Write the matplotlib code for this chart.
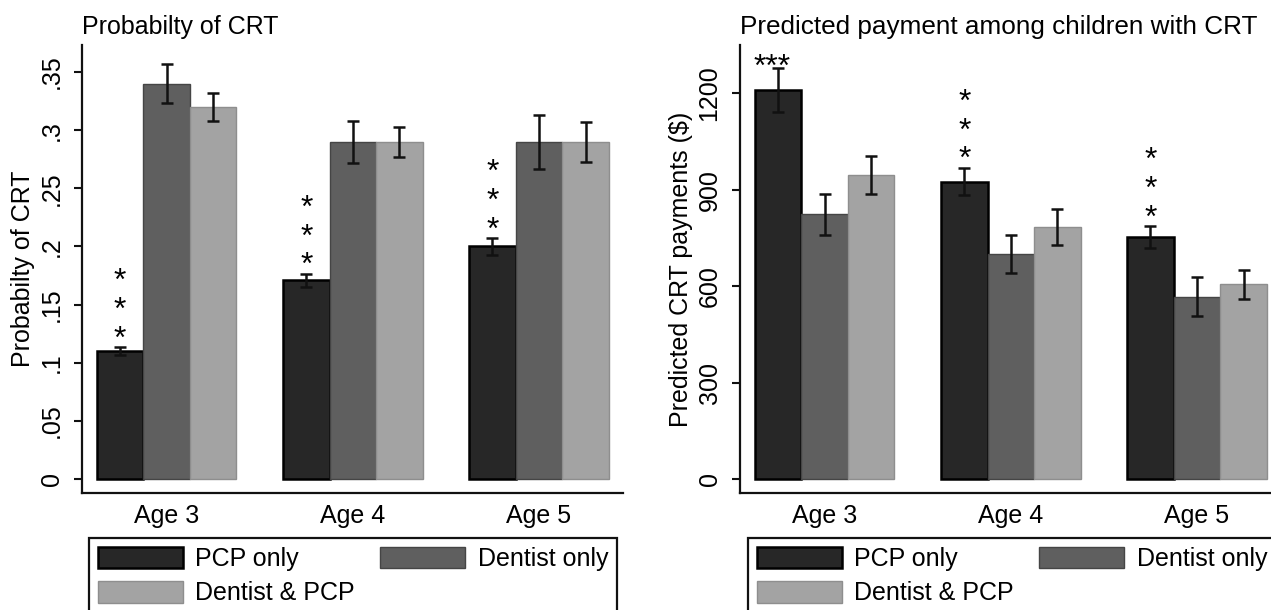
import matplotlib
matplotlib.use("Agg")
import matplotlib.pyplot as plt
from matplotlib.patches import Patch
import numpy as np

plt.rcParams['font.family'] = ['Liberation Sans', 'DejaVu Sans']

# ---------------- data ----------------
ages = ["Age 3", "Age 4", "Age 5"]
series = ["PCP only", "Dentist only", "Dentist & PCP"]

prob_pcp = [0.11, 0.171, 0.20]
prob_pcp_err = [0.0035, 0.0055, 0.0073]
prob_dentist = [0.34, 0.29, 0.29]
prob_dentist_err = [0.017, 0.018, 0.023]
prob_both = [0.32, 0.29, 0.29]
prob_both_err = [0.012, 0.0127, 0.017]

pay_pcp = [1210, 925, 752]
pay_pcp_err = [68, 43, 35]
pay_dentist = [823, 700, 567]
pay_dentist_err = [65, 58, 61]
pay_both = [947, 785, 606]
pay_both_err = [59, 56, 45]

prob_ticks = [0, 0.05, 0.10, 0.15, 0.20, 0.25, 0.30, 0.35]
prob_ticklabels = ["0", ".05", ".1", ".15", ".2", ".25", ".3", ".35"]
pay_ticks = [0, 300, 600, 900, 1200]
pay_ticklabels = ["0", "300", "600", "900", "1200"]

# significance marks on the "PCP only" bars
prob_stars = ["*\n*\n*", "*\n*\n*", "*\n*\n*"]
pay_stars = ["***", "*\n*\n*", "*\n*\n*"]

titles = ["Probabilty of CRT", "Predicted payment among children with CRT"]
ylabels = ["Probabilty of CRT", "Predicted CRT payments ($)"]

# ---------------- style ----------------
W, H = 1271, 610
FS = 18
SFS = 23
colors = ["#272727", "#5f5f5f", "#a3a3a3"]
edges = ["#000000", "#454545", "#8e8e8e"]
edge_lw = [1.8, 1.0, 1.0]
BW = 0.25
PX = 0.72  # points per pixel at dpi 100

fig = plt.figure(figsize=(W / 100, H / 100), dpi=100)
ax1 = fig.add_axes([82 / W, 1 - 493 / H, 541 / W, 448 / H])
ax2 = fig.add_axes([740 / W, 1 - 493 / H, 541 / W, 448 / H])


def draw(ax, vals, errs, stars, yticks, yticklabels, ylim, title, ylabel,
         legend_x, title_fs):
    x = np.arange(len(ages))
    for i, (v, e) in enumerate(zip(vals, errs)):
        xs = x + (i - 1) * BW
        ax.bar(xs, v, width=BW, color=colors[i], edgecolor=edges[i],
               linewidth=edge_lw[i], zorder=2)
        ax.errorbar(xs, v, yerr=e, fmt="none", ecolor="#111111",
                    elinewidth=1.8, capsize=4.5, capthick=1.8, zorder=3)
    # stars above PCP bars
    xs = x - BW
    for j, s in enumerate(stars):
        top = vals[0][j] + errs[0][j]
        if "\n" in s:
            dx, dy = 0, -7.5
        else:
            dx, dy = -6, -14.5
        ax.annotate(s, xy=(xs[j], top), xytext=(dx * PX, dy * PX),
                    textcoords="offset points", ha="center", va="bottom",
                    fontsize=SFS, linespacing=0.95, zorder=4,
                    annotation_clip=False)

    ax.set_xlim(-0.454, 2.451)
    ax.set_ylim(*ylim)
    ax.set_xticks(x)
    ax.set_xticklabels(ages, fontsize=FS)
    ax.set_yticks(yticks)
    ax.set_yticklabels(yticklabels, fontsize=FS)
    ax.tick_params(axis="x", length=0, pad=8)
    ax.tick_params(axis="y", length=5.8, width=1.5, pad=7.5,
                   labelrotation=90, color="#111111")
    plt.setp(ax.get_yticklabels(), va="center", ha="right")
    for s in ["top", "right"]:
        ax.spines[s].set_visible(False)
    for s in ["left", "bottom"]:
        ax.spines[s].set_linewidth(1.6)
        ax.spines[s].set_color("#111111")
    ax.set_title(title, loc="left", fontsize=title_fs, pad=11 * PX)
    ax.set_ylabel(ylabel, fontsize=FS)
    ax.yaxis.label.set_va("center")
    ax.yaxis.set_label_coords((23 - 82) / 541, 0.5)

    handles = [Patch(facecolor=colors[0], edgecolor=edges[0], linewidth=1.8),
               Patch(facecolor=colors[2], edgecolor=edges[2], linewidth=1.0),
               Patch(facecolor=colors[1], edgecolor=edges[1], linewidth=1.0)]
    labels = [series[0], series[2], series[1]]
    leg = ax.legend(handles, labels, loc="upper left", ncol=2,
                    bbox_to_anchor=(legend_x / W, 1 - 538 / H - 0.01,
                                    528 / W, 0.01),
                    bbox_transform=fig.transFigure, mode="expand",
                    borderaxespad=0, fontsize=FS, handlelength=3.4,
                    handleheight=0.95, handletextpad=0.5, borderpad=0.35,
                    labelspacing=0.4, columnspacing=1.0, fancybox=False,
                    framealpha=1)
    leg.get_frame().set_edgecolor("#111111")
    leg.get_frame().set_linewidth(1.6)


draw(ax1, [prob_pcp, prob_dentist, prob_both],
     [prob_pcp_err, prob_dentist_err, prob_both_err], prob_stars,
     prob_ticks, prob_ticklabels, (-0.012, 0.3732), titles[0], ylabels[0],
     89, 18)
draw(ax2, [pay_pcp, pay_dentist, pay_both],
     [pay_pcp_err, pay_dentist_err, pay_both_err], pay_stars,
     pay_ticks, pay_ticklabels, (-43.6, 1350), titles[1], ylabels[1],
     748, 18.8)

fig.savefig("out.png", dpi=100)
